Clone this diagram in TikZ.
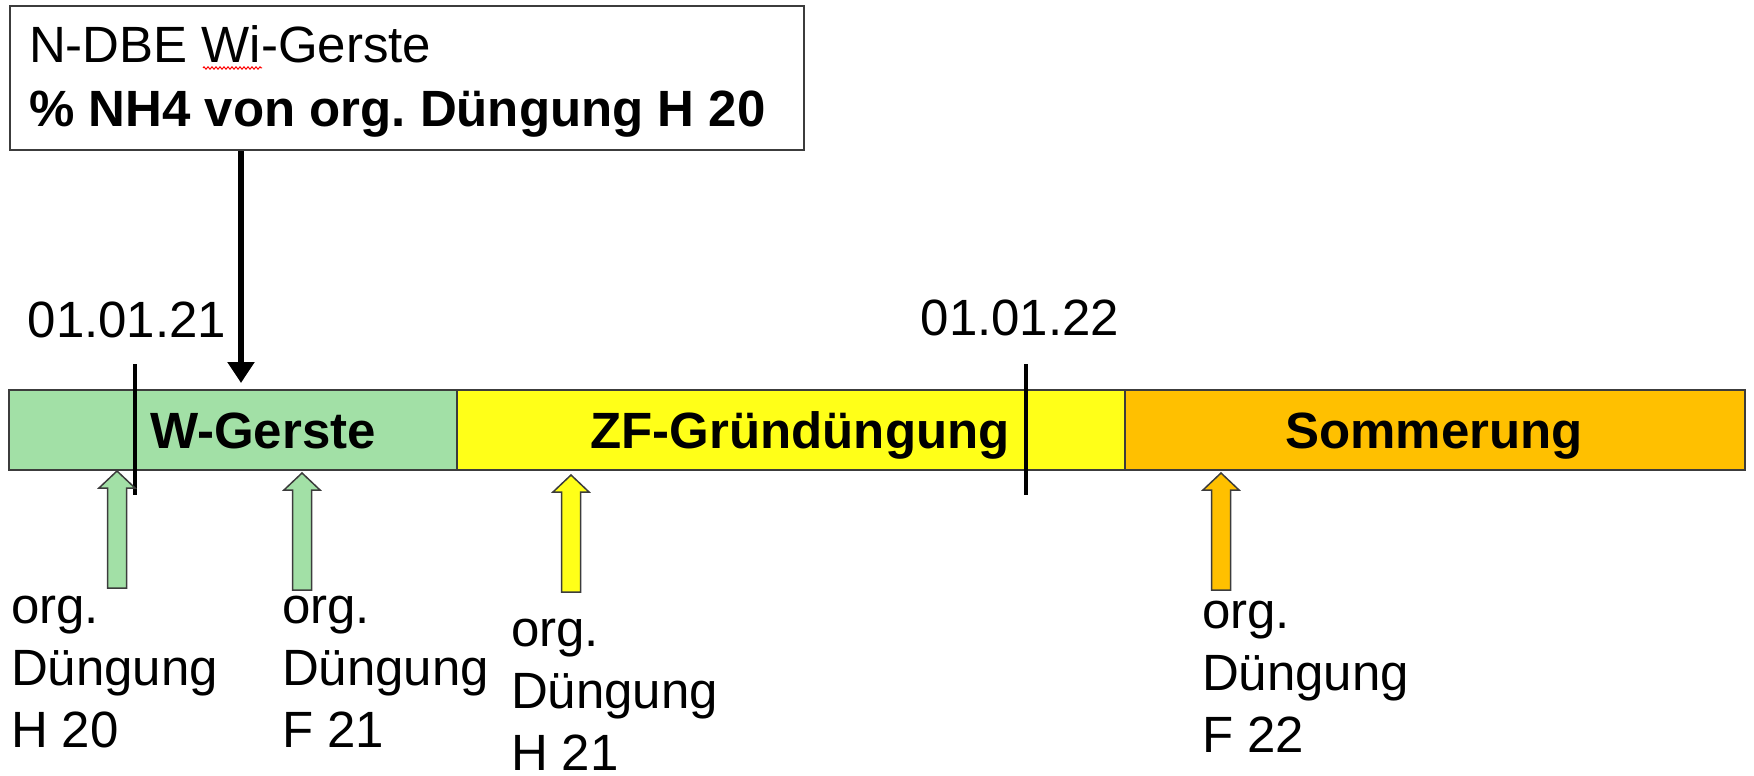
\documentclass[tikz,border=0pt]{standalone}
\usepackage{fontspec}
\setmainfont{Liberation Sans}
\usetikzlibrary{arrows.meta,decorations.pathmorphing}
\frenchspacing

\definecolor{wgreen}{RGB}{162,224,166}
\definecolor{zfyellow}{RGB}{255,255,24}
\definecolor{sorange}{RGB}{255,192,0}
\definecolor{edgegray}{RGB}{60,60,60}

\tikzset{
  txt/.style={font=\fontsize{51}{62}\selectfont, inner sep=0pt, outer sep=0pt},
  boldtxt/.style={txt, font=\fontsize{51}{62}\selectfont\bfseries},
  segment/.style={draw=edgegray, line width=2pt, inner sep=0pt, outer sep=0pt,
    minimum height=80pt, anchor=north west},
  tickline/.style={line width=4pt, black},
  pointer/.style={line width=6pt, black, -{Triangle[width=26pt,length=21pt]}},
  blockarrow/.style={draw=edgegray, line width=1.5pt, line join=miter, fill=#1},
  pics/dunger/.style={code={
    % block arrow pointing up, tip at the pic origin
    \path[blockarrow=#1] (0,0) -- (18,17) -- (9.5,17) -- (9.5,117)
      -- (-9.5,117) -- (-9.5,17) -- (-18,17) -- cycle;
  }},
}

\begin{document}
\begin{tikzpicture}[x=1pt, y=-1pt]
\useasboundingbox (0,0) rectangle (1754,776);

% headline box
\node[draw=edgegray, line width=2pt, anchor=north west, minimum width=794pt,
      minimum height=144pt, inner sep=0pt] (note) at (9,5) {};
\node[txt, anchor=base west] (title) at (29,63) {N-DBE Wi-Gerste};
\node[boldtxt, anchor=base west] (subtitle) at (29,126) {\% NH4 von org. Düngung H 20};
\draw[red, line width=1pt, decorate,
      decoration={zigzag, segment length=4pt, amplitude=1.2pt}]
  (203,68) -- (262,68);

% crop periods along the time bar
\node[segment, fill=wgreen, minimum width=448pt] (wg) at (9,390) {};
\node[segment, fill=zfyellow, minimum width=668pt] (zf) at (457,390) {};
\node[segment, fill=sorange, minimum width=620pt] (so) at (1125,390) {};
\node[boldtxt, anchor=base] (wglabel) at (263,448) {W-Gerste};
\node[boldtxt, anchor=base] (zflabel) at (800,448) {ZF-Gründüngung};
\node[boldtxt, anchor=base] (solabel) at (1434,448) {Sommerung};

% year marks
\coordinate (y21top) at (135,364);
\coordinate (y21bot) at (135,495);
\coordinate (y22top) at (1026,364);
\coordinate (y22bot) at (1026,495);
\draw[tickline] (y21top) -- (y21bot);
\draw[tickline] (y22top) -- (y22bot);
\node[txt, anchor=base] (d21) at (127,337) {01.01.21};
\node[txt, anchor=base] (d22) at (1020,335) {01.01.22};

% pointer from the box to the barley period
\coordinate (ptip) at (241,383);
\draw[pointer] (note.south -| ptip) -- (ptip);

% fertiliser applications
\pic at (117,471) {dunger=wgreen};
\pic at (302,473) {dunger=wgreen};
\pic at (571,475) {dunger=zfyellow};
\pic at (1221,473) {dunger=sorange};

% labels (anchored at the baseline of their last line)
\node[txt, anchor=base west, align=left] (a1) at (11,747) {org.\\Düngung\\H 20};
\node[txt, anchor=base west, align=left] (a2) at (282,747) {org.\\Düngung\\F 21};
\node[txt, anchor=base west, align=left] (a3) at (511,770) {org.\\Düngung\\H 21};
\node[txt, anchor=base west, align=left] (a4) at (1202,752) {org.\\Düngung\\F 22};
\end{tikzpicture}
\end{document}
